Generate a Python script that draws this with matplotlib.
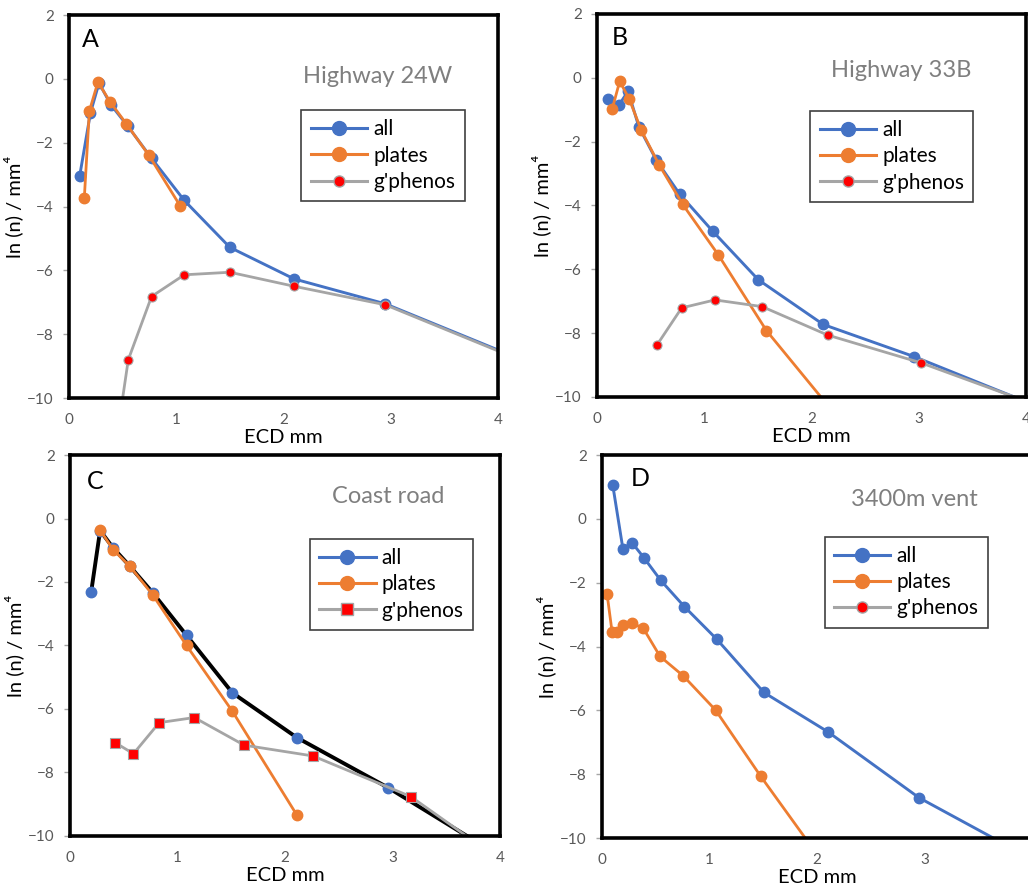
import matplotlib
matplotlib.use('Agg')
import matplotlib.pyplot as plt
from matplotlib.lines import Line2D

plt.rcParams['font.family'] = ['Lato', 'DejaVu Sans']

BLUE = '#4472C4'
ORANGE = '#ED7D31'
GREY = '#A5A5A5'
RED = '#FF0000'

# A - Highway 24W
a_all_x = [0.10, 0.20, 0.28, 0.39, 0.55, 0.77, 1.075, 1.50, 2.10, 2.95, 4.2]
a_all_y = [-3.04, -1.07, -0.13, -0.81, -1.49, -2.49, -3.81, -5.28, -6.27, -7.05, -8.77]
a_plates_x = [0.143, 0.19, 0.27, 0.385, 0.535, 0.746, 1.035]
a_plates_y = [-3.73, -1.01, -0.10, -0.73, -1.41, -2.40, -3.97]
a_gph_x = [0.40, 0.553, 0.77, 1.075, 1.50, 2.10, 2.95, 4.2]
a_gph_y = [-12.3, -8.80, -6.82, -6.14, -6.06, -6.50, -7.08, -8.80]

# B - Highway 33B
b_all_x = [0.103, 0.206, 0.29, 0.39, 0.555, 0.77, 1.08, 1.505, 2.11, 2.96, 4.2]
b_all_y = [-0.66, -0.85, -0.42, -1.53, -2.59, -3.64, -4.81, -6.33, -7.73, -8.74, -10.42]
b_plates_x = [0.143, 0.212, 0.30, 0.414, 0.58, 0.80, 1.13, 1.58, 2.3]
b_plates_y = [-0.97, -0.11, -0.66, -1.65, -2.73, -3.97, -5.54, -7.92, -10.87]
b_gph_x = [0.56, 0.79, 1.10, 1.54, 2.15, 3.02, 4.2]
b_gph_y = [-8.37, -7.21, -6.96, -7.17, -8.06, -8.93, -10.38]

# C - Coast road
c_all_x = [0.197, 0.28, 0.40, 0.556, 0.77, 1.084, 1.51, 2.11, 2.96, 4.0]
c_all_y = [-2.31, -0.38, -0.92, -1.50, -2.34, -3.68, -5.49, -6.90, -8.48, -10.64]
c_plates_x = [0.28, 0.40, 0.556, 0.77, 1.084, 1.51, 2.11]
c_plates_y = [-0.36, -0.98, -1.50, -2.41, -4.00, -6.07, -9.34]
c_gph_x = [0.42, 0.59, 0.83, 1.156, 1.62, 2.26, 3.17, 4.0]
c_gph_y = [-7.06, -7.41, -6.43, -6.27, -7.14, -7.48, -8.76, -10.75]

# D - 3400m vent (no g'phenos counted)
d_all_x = [0.10, 0.194, 0.28, 0.39, 0.547, 0.766, 1.07, 1.506, 2.10, 2.95, 4.0]
d_all_y = [1.06, -0.93, -0.75, -1.22, -1.93, -2.75, -3.78, -5.44, -6.67, -8.74, -10.66]
d_plates_x = [0.047, 0.094, 0.14, 0.194, 0.275, 0.384, 0.54, 0.756, 1.056, 1.475, 2.1]
d_plates_y = [-2.35, -3.55, -3.55, -3.34, -3.26, -3.43, -4.31, -4.92, -5.99, -8.06, -10.98]
d_gph_x = []
d_gph_y = []

fig = plt.figure(figsize=(10.28, 8.88), dpi=100)


def panel(rect, letter, site, allx, ally, px, py, gx, gy,
          leg_xy, site_xy, letter_xy, all_line=BLUE, gmark='o'):
    ax = fig.add_axes(rect)
    ax.plot(allx, ally, color=all_line, lw=2.8 if all_line == 'black' else 2.1,
            marker='o', ms=7.5, mfc=BLUE, mec=BLUE, zorder=2)
    ax.plot(px, py, color=ORANGE, lw=2.0, marker='o', ms=7.5, zorder=3)
    ax.plot(gx, gy, color=GREY, lw=2.0, marker=gmark, ms=6.5,
            mfc=RED, mec=GREY, mew=0.8, zorder=4)

    ax.set_xlim(0, 4)
    ax.set_ylim(-10, 2)
    ax.set_xticks([0, 1, 2, 3, 4])
    ax.set_yticks([-10, -8, -6, -4, -2, 0, 2])
    ax.tick_params(axis='y', length=4, width=1, color='#A6A6A6',
                   labelsize=11, labelcolor='#595959', pad=7)
    ax.tick_params(axis='x', length=0, labelsize=11, labelcolor='#595959', pad=11)
    for s in ax.spines.values():
        s.set_linewidth(2.6)
        s.set_color('black')
        s.set_zorder(5)

    ax.set_xlabel('ECD mm', fontsize=14.5, labelpad=1)
    ax.set_ylabel('ln (n) / mm⁴', fontsize=14.5, labelpad=3)

    ax.text(letter_xy[0], letter_xy[1], letter, transform=ax.transAxes,
            fontsize=18, va='top', ha='left')
    ax.text(site_xy[0], site_xy[1], site, transform=ax.transAxes,
            fontsize=17, color='#7F7F7F', va='center', ha='center')

    handles = [
        Line2D([], [], color=BLUE, lw=2.2, marker='o', ms=10),
        Line2D([], [], color=ORANGE, lw=2.2, marker='o', ms=10),
        Line2D([], [], color=GREY, lw=2.2, marker=gmark, ms=8, mfc=RED, mec=GREY),
    ]
    leg = ax.legend(handles, ['all', 'plates', "g'phenos"], loc='upper left',
                    bbox_to_anchor=leg_xy, borderaxespad=0, fontsize=15,
                    frameon=True, fancybox=False, framealpha=1,
                    edgecolor='#404040', handlelength=2.7, handletextpad=0.3,
                    labelspacing=0.3, borderpad=0.45)
    leg.get_frame().set_linewidth(1.2)
    return ax


panel([0.0671, 0.5518, 0.4173, 0.4313], 'A', 'Highway 24W',
      a_all_x, a_all_y, a_plates_x, a_plates_y, a_gph_x, a_gph_y,
      (0.542, 0.752), (0.72, 0.84), (0.03, 0.965))
panel([0.5807, 0.553, 0.4173, 0.4313], 'B', 'Highway 33B',
      b_all_x, b_all_y, b_plates_x, b_plates_y, b_gph_x, b_gph_y,
      (0.497, 0.747), (0.709, 0.852), (0.035, 0.968))
panel([0.0681, 0.0586, 0.4183, 0.429], 'C', 'Coast road',
      c_all_x, c_all_y, c_plates_x, c_plates_y, c_gph_x, c_gph_y,
      (0.558, 0.78), (0.74, 0.89), (0.04, 0.96), all_line='black', gmark='s')
panel([0.5856, 0.0563, 0.4183, 0.4313], 'D', '3400m vent',
      d_all_x, d_all_y, d_plates_x, d_plates_y, d_gph_x, d_gph_y,
      (0.518, 0.787), (0.726, 0.883), (0.067, 0.968))

fig.savefig('out.png', dpi=100)
